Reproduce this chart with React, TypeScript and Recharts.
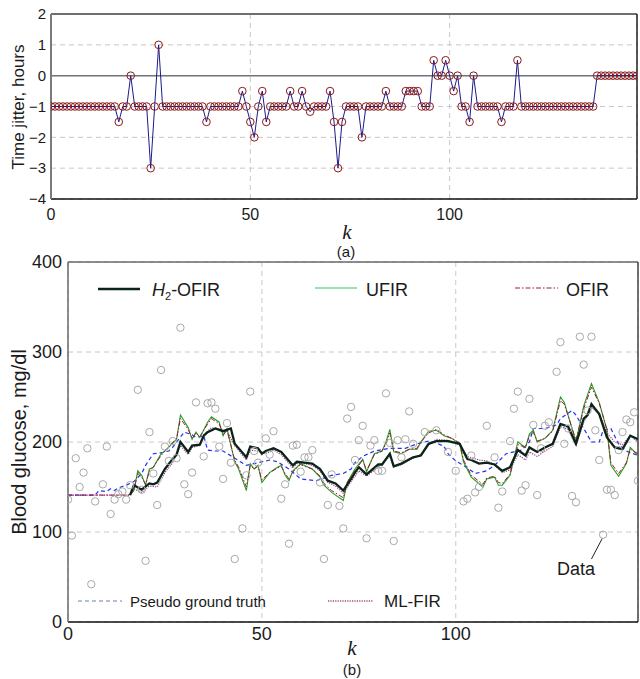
import React from 'react';
import {
  ComposedChart,
  Line,
  Scatter,
  XAxis,
  YAxis,
  CartesianGrid,
  ReferenceLine,
} from 'recharts';

const SANS = '"Liberation Sans", Arial, sans-serif';
const SERIF = '"Liberation Serif", "DejaVu Serif", serif';

const kTicks = [0, 50, 100];
const jitterTicks = [-4, -3, -2, -1, 0, 1, 2];
const glucoseTicks = [0, 100, 200, 300, 400];

// time jitter per sample k = 0..147 (hours)
const jitter = [
  -1, -1, -1, -1, -1, -1, -1, -1, -1, -1, -1, -1, -1, -1, -1, -1, -1, -1.5, -1, -1,
  0, -1, -1, -1, -1, -3, -1, 1, -1, -1, -1, -1, -1, -1, -1, -1, -1, -1, -1, -1.5,
  -1, -1, -1, -1, -1, -1, -1, -1, -0.5, -1, -1.5, -2, -1, -0.5, -1.5, -1, -1, -1, -1, -1,
  -0.5, -1, -1, -0.5, -1, -1.17, -1, -1, -1, -1, -0.5, -1.5, -3, -1.5, -1, -1, -1, -1, -2, -1,
  -1, -1, -1, -1, -0.5, -1, -1, -1, -1, -0.5, -0.5, -0.5, -0.5, -1, -1, -1, 0.5, 0, 0, 0.5,
  0, -0.5, 0, -1, -1, -1.5, 0, -1, -1, -1, -1, -1, -1, -1.5, -1, -1, -1, 0.5, -1, -1,
  -1, -1, -1, -1, -1, -1, -1, -1, -1, -1, -1, -1, -1, -1, -1, -1, -1, 0, 0, 0,
  0, 0, 0, 0, 0, 0, 0, 0,
];

// measured blood glucose (mg/dl)
const dataK = [
  0, 1, 2, 3, 4, 5, 6, 7, 9, 10, 11, 12, 13, 14, 15, 16, 18, 19, 20, 21, 22, 23, 24, 25, 26, 27, 28, 29,
  30, 31, 32, 33, 35, 36, 37, 38, 39, 40, 41, 42, 43, 45, 46, 47, 48, 49, 51, 52, 53, 55, 56, 57, 58, 59,
  60, 61, 62, 63, 65, 66, 67, 68, 70, 71, 72, 73, 74, 75, 76, 77, 78, 79, 80, 81, 82, 83, 84, 85, 86, 87,
  88, 89, 92, 95, 98, 100, 102, 103, 104, 105, 106, 108, 110, 111, 112, 114, 115, 116, 117, 118, 119, 120,
  121, 122, 123, 124, 126, 127, 128, 129, 130, 131, 132, 133, 134, 135, 136, 137, 138, 139, 140, 141, 142,
  143, 144, 145, 146, 147,
];
const dataV = [
  136, 96, 182, 150, 166, 193, 42, 134, 153, 195, 120, 136, 142, 145, 136, 152, 258, 147, 68, 211, 165, 130, 280, 195, 179, 201, 182, 327,
  153, 142, 166, 244, 184, 243, 244, 237, 195, 159, 221, 177, 70, 104, 163, 256, 190, 177, 204, 186, 212, 137, 153, 87, 196, 197,
  167, 183, 183, 191, 155, 70, 130, 164, 129, 104, 226, 239, 180, 202, 218, 93, 196, 202, 168, 168, 254, 199, 90, 202, 183, 203,
  234, 198, 211, 213, 189, 168, 134, 137, 185, 144, 150, 218, 183, 127, 145, 201, 237, 256, 146, 152, 248, 219,
  141, 193, 218, 222, 278, 311, 198, 215, 140, 133, 317, 286, 235, 317, 213, 180, 97, 147, 147, 141, 191,
  211, 225, 222, 233, 157,
];

// estimates: [k, mg/dl]
const pseudoTruth: [number, number][] = [
  [0, 141], [7, 141], [8, 146], [10, 145], [11, 148], [12, 146], [13, 149], [15, 152], [17, 156], [19, 165],
  [20, 174], [22, 187], [24, 188], [26, 190], [27, 194], [28, 200], [30, 211], [32, 208], [33, 205], [35, 207],
  [36, 191], [38, 190], [40, 190], [43, 182], [46, 174], [49, 177], [52, 180], [54, 178], [57, 170], [60, 159],
  [64, 157], [68, 163], [71, 165], [73, 170], [74, 177], [76, 184], [79, 190], [83, 193], [87, 193], [90, 198],
  [93, 201], [95, 199], [97, 195], [98, 187], [100, 179], [102, 174], [105, 165], [108, 168], [110, 174], [113, 187],
  [115, 189], [117, 191], [119, 200], [120, 215], [123, 215], [126, 219], [127, 226], [130, 235], [131, 230], [133, 215],
  [135, 200], [137, 200], [138, 213], [140, 215], [142, 198], [144, 190], [147, 185],
];

const h2Ofir: [number, number][] = [
  [16, 141], [17, 152], [19, 147], [21, 154], [22, 153], [23, 155], [25, 170], [27, 181], [28, 186], [29, 200],
  [31, 189], [32, 196], [34, 197], [35, 207], [36, 211], [38, 215], [40, 212], [42, 215], [43, 198], [46, 183],
  [47, 195], [49, 193], [50, 187], [51, 190], [53, 193], [55, 189], [58, 174], [59, 178], [61, 177], [63, 176],
  [65, 170], [67, 157], [69, 154], [71, 146], [73, 159], [74, 166], [75, 172], [77, 164], [80, 175], [81, 175],
  [83, 187], [84, 173], [86, 176], [89, 183], [91, 185], [93, 198], [95, 201], [98, 201], [101, 198], [103, 181],
  [104, 180], [106, 176], [108, 177], [110, 175], [112, 168], [114, 172], [116, 191], [118, 185], [119, 194], [121, 189],
  [123, 194], [125, 198], [127, 220], [129, 217], [131, 198], [133, 226], [134, 230], [135, 242], [137, 231], [139, 205],
  [141, 194], [143, 192], [145, 207], [147, 203],
];

const ufir: [number, number][] = [
  [16, 141], [17, 146], [18, 168], [19, 163], [20, 152], [21, 170], [22, 172], [24, 187], [25, 190], [28, 203],
  [29, 230], [31, 216], [32, 203], [33, 211], [34, 205], [36, 222], [37, 228], [39, 222], [40, 207], [41, 215],
  [43, 178], [44, 170], [46, 146], [47, 176], [48, 170], [49, 174], [50, 155], [52, 166], [54, 172], [55, 174],
  [56, 163], [57, 157], [58, 168], [60, 176], [61, 174], [63, 170], [65, 161], [66, 152], [68, 144], [71, 135],
  [72, 155], [74, 170], [76, 181], [77, 167], [79, 187], [81, 190], [82, 200], [83, 214], [84, 189], [86, 187],
  [88, 192], [90, 192], [91, 200], [93, 212], [95, 213], [97, 207], [99, 204], [101, 198], [102, 178], [104, 161],
  [107, 150], [108, 159], [110, 161], [111, 152], [112, 152], [114, 163], [116, 200], [118, 194], [119, 209], [120, 213],
  [121, 200], [123, 204], [125, 213], [127, 250], [128, 244], [131, 200], [133, 240], [135, 265], [137, 244], [139, 213],
  [140, 174], [142, 162], [144, 176], [145, 194], [147, 185],
];

const ofir: [number, number][] = [
  [0, 141], [16, 141], [17, 147], [18, 165], [19, 161], [20, 153], [21, 168], [22, 172], [24, 185], [25, 190],
  [28, 204], [29, 226], [31, 214], [32, 204], [33, 210], [34, 206], [36, 220], [37, 226], [39, 220], [40, 208],
  [41, 213], [43, 180], [44, 172], [46, 150], [47, 174], [48, 170], [49, 173], [50, 158], [52, 166], [54, 171],
  [55, 173], [56, 165], [57, 159], [58, 167], [60, 175], [61, 173], [63, 170], [65, 162], [66, 154], [68, 146],
  [71, 138], [72, 155], [74, 168], [76, 180], [77, 168], [79, 186], [81, 190], [82, 198], [83, 210], [84, 190],
  [86, 188], [88, 192], [90, 193], [91, 200], [93, 210], [95, 214], [97, 208], [99, 204], [101, 199], [102, 180],
  [104, 163], [107, 153], [108, 160], [110, 162], [111, 155], [112, 154], [114, 164], [116, 197], [118, 194], [119, 207],
  [120, 211], [121, 201], [123, 204], [125, 212], [127, 246], [128, 242], [131, 202], [133, 237], [135, 261], [137, 243],
  [139, 214], [140, 177], [142, 165], [144, 177], [145, 192], [147, 187],
];

const mlFir: [number, number][] = [
  [0, 141], [16, 141], [17, 148], [19, 144], [21, 151], [23, 150], [25, 166], [27, 177], [29, 196], [31, 186],
  [32, 194], [34, 196], [35, 208], [37, 216], [39, 214], [41, 212], [43, 196], [46, 180], [47, 191], [49, 190],
  [51, 187], [53, 191], [55, 186], [58, 171], [59, 176], [61, 176], [63, 174], [65, 168], [67, 155], [69, 151],
  [71, 143], [73, 156], [75, 168], [77, 162], [80, 172], [83, 184], [84, 172], [86, 175], [89, 182], [91, 186],
  [93, 197], [95, 203], [98, 202], [101, 197], [103, 184], [106, 180], [108, 179], [110, 175], [112, 166], [114, 169],
  [116, 186], [118, 180], [119, 189], [121, 184], [123, 190], [125, 195], [127, 217], [129, 214], [131, 196], [133, 222],
  [135, 238], [137, 232], [139, 210], [141, 200], [143, 197], [145, 207], [147, 200],
];

const jitterRows = jitter.map((v, k) => ({ k, v }));
const dataRows = dataK.map((k, i) => ({ k, v: dataV[i] }));
const toRows = (pts: [number, number][]) => pts.map(([k, v]) => ({ k, v }));

const minus = (v: number) => (v < 0 ? `\u2212${-v}` : `${v}`);

const tickStyle = (size: number) => ({ fill: '#1a1a1a', fontSize: size, fontFamily: SANS });

function JitterChart() {
  return (
    <ComposedChart
      width={640}
      height={230}
      data={jitterRows}
      margin={{ top: 14, right: 3, bottom: 7, left: 0 }}
    >
      <CartesianGrid stroke="#c8c8c8" strokeDasharray="5 4" />
      <XAxis
        dataKey="k"
        type="number"
        domain={[0, 147]}
        ticks={kTicks}
        allowDataOverflow
        tickLine={false}
        tickSize={0}
        tickMargin={10}
        height={24}
        axisLine={{ stroke: '#111', strokeWidth: 1.5 }}
        tick={tickStyle(16)}
      />
      <YAxis
        type="number"
        domain={[-4, 2]}
        ticks={jitterTicks}
        allowDataOverflow
        tickLine={false}
        tickSize={0}
        tickMargin={5}
        width={51}
        axisLine={{ stroke: '#7a7a7a', strokeWidth: 2 }}
        tick={tickStyle(15)}
        tickFormatter={minus}
      />
      <ReferenceLine y={0} stroke="#6e767c" strokeWidth={1.5} />
      <ReferenceLine y={2} stroke="#6f6f6f" strokeWidth={2} />
      <ReferenceLine x={147} stroke="#222" strokeWidth={1.5} />
      <Line
        dataKey="v"
        type="linear"
        stroke="#1c1c8a"
        strokeWidth={1}
        dot={{ r: 3.8, stroke: '#8b1a1a', strokeWidth: 1, fill: 'none' }}
        isAnimationActive={false}
      />
    </ComposedChart>
  );
}

function GlucoseChart() {
  return (
    <ComposedChart width={640} height={429} margin={{ top: 12, right: 2, bottom: 33, left: 0 }}>
      <CartesianGrid stroke="#c8c8c8" strokeDasharray="5 4" />
      <XAxis
        dataKey="k"
        type="number"
        domain={[0, 147]}
        ticks={kTicks}
        allowDataOverflow
        tickLine={false}
        tickSize={0}
        tickMargin={5}
        height={24}
        axisLine={{ stroke: '#111', strokeWidth: 1.5 }}
        tick={tickStyle(18)}
      />
      <YAxis
        type="number"
        domain={[0, 400]}
        ticks={glucoseTicks}
        allowDataOverflow
        tickLine={false}
        tickSize={0}
        tickMargin={6}
        width={68}
        axisLine={{ stroke: '#6a6a6a', strokeWidth: 1.5 }}
        tick={tickStyle(18)}
      />
      <ReferenceLine y={400} stroke="#6a6a6a" strokeWidth={1.5} />
      <ReferenceLine x={147} stroke="#444" strokeWidth={1.5} />
      <Scatter
        data={dataRows}
        dataKey="v"
        isAnimationActive={false}
        shape={(p: any) => (
          <circle cx={p.cx} cy={p.cy} r={3.7} fill="none" stroke="#a9a9a9" strokeWidth={1} />
        )}
      />
      <ReferenceLine
        segment={[{ x: 137.8, y: 93 }, { x: 135, y: 70 }]}
        stroke="#222"
        strokeWidth={1}
      />
      <Line
        data={toRows(pseudoTruth)}
        dataKey="v"
        name="Pseudo ground truth"
        type="linear"
        stroke="#2233ee"
        strokeWidth={1.2}
        strokeDasharray="4 3"
        dot={false}
        isAnimationActive={false}
      />
      <Line
        data={toRows(mlFir)}
        dataKey="v"
        name="ML-FIR"
        type="linear"
        stroke="#93428a"
        strokeWidth={1.2}
        strokeDasharray="1.2 1.2"
        dot={false}
        isAnimationActive={false}
      />
      <Line
        data={toRows(ufir)}
        dataKey="v"
        name="UFIR"
        type="linear"
        stroke="#22a022"
        strokeWidth={1.1}
        dot={false}
        isAnimationActive={false}
      />
      <Line
        data={toRows(ofir)}
        dataKey="v"
        name="OFIR"
        type="linear"
        stroke="#a3173e"
        strokeWidth={1}
        strokeDasharray="5 2 1.5 2"
        dot={false}
        isAnimationActive={false}
      />
      <Line
        data={toRows(h2Ofir)}
        dataKey="v"
        name="H2-OFIR"
        type="linear"
        stroke="#0b2418"
        strokeWidth={2.3}
        dot={false}
        isAnimationActive={false}
      />
    </ComposedChart>
  );
}

function Swatch(props: { left: number; top: number; width: number; color: string; sw: number; dash?: string }) {
  const { left, top, width, color, sw, dash } = props;
  return (
    <svg style={{ position: 'absolute', left, top: top - 4 }} width={width} height={8}>
      <line x1={0} y1={4} x2={width} y2={4} stroke={color} strokeWidth={sw} strokeDasharray={dash} />
    </svg>
  );
}

function Text(props: { left: number; top: number; size: number; children: React.ReactNode; style?: React.CSSProperties }) {
  const { left, top, size, children, style } = props;
  return (
    <div
      style={{
        position: 'absolute',
        left,
        top: top - size / 2,
        fontSize: size,
        lineHeight: `${size}px`,
        fontFamily: SANS,
        color: '#1a1a1a',
        whiteSpace: 'nowrap',
        ...style,
      }}
    >
      {children}
    </div>
  );
}

function Rotated(props: { cx: number; cy: number; size: number; children: React.ReactNode }) {
  return (
    <div
      style={{
        position: 'absolute',
        left: props.cx,
        top: props.cy,
        transform: 'translate(-50%, -50%) rotate(-90deg)',
        fontSize: props.size,
        lineHeight: `${props.size}px`,
        fontFamily: SANS,
        color: '#1a1a1a',
        whiteSpace: 'nowrap',
      }}
    >
      {props.children}
    </div>
  );
}

function Centered(props: { cx: number; cy: number; size: number; serif?: boolean; children: React.ReactNode }) {
  return (
    <div
      style={{
        position: 'absolute',
        left: props.cx,
        top: props.cy,
        transform: 'translate(-50%, -50%)',
        fontSize: props.size,
        lineHeight: `${props.size}px`,
        fontFamily: props.serif ? SERIF : SANS,
        fontStyle: props.serif ? 'italic' : 'normal',
        color: '#1a1a1a',
        whiteSpace: 'nowrap',
      }}
    >
      {props.children}
    </div>
  );
}

export default function App() {
  return (
    <div style={{ position: 'absolute', left: 0, top: 0, width: 640, height: 679, background: '#fff' }}>
      <div style={{ position: 'absolute', left: 0, top: 0 }}>
        <JitterChart />
      </div>
      <Rotated cx={18} cy={107} size={17}>Time jitter, hours</Rotated>
      <Centered cx={347} cy={232} size={21} serif>k</Centered>
      <Centered cx={346} cy={251} size={15}>(a)</Centered>

      <div style={{ position: 'absolute', left: 0, top: 250 }}>
        <GlucoseChart />
      </div>
      <Rotated cx={19} cy={442} size={20}>Blood glucose, mg/dl</Rotated>
      <Centered cx={352} cy={648} size={21} serif>k</Centered>
      <Centered cx={352} cy={669} size={15}>(b)</Centered>

      <Swatch left={98} top={289} width={42} color="#0b2418" sw={2.5} />
      <Text left={152} top={290} size={18}>
        <i>H</i>
        <span style={{ fontSize: 11, position: 'relative', top: 4 }}>2</span>-OFIR
      </Text>
      <Swatch left={315} top={288} width={42} color="#3cbf5c" sw={1.2} />
      <Text left={366} top={290} size={18}>UFIR</Text>
      <Swatch left={515} top={288} width={43} color="#a3173e" sw={1.2} dash="5 2 1.5 2" />
      <Text left={566} top={290} size={18}>OFIR</Text>
      <Swatch left={78} top={601} width={44} color="#6f7fc0" sw={1.2} dash="4 3" />
      <Text left={130} top={601} size={15}>Pseudo ground truth</Text>
      <Swatch left={328} top={601} width={45} color="#a04a78" sw={1.3} dash="1.2 1.2" />
      <Text left={384} top={601} size={17}>ML-FIR</Text>
      <Text left={557} top={569} size={18}>Data</Text>
    </div>
  );
}
